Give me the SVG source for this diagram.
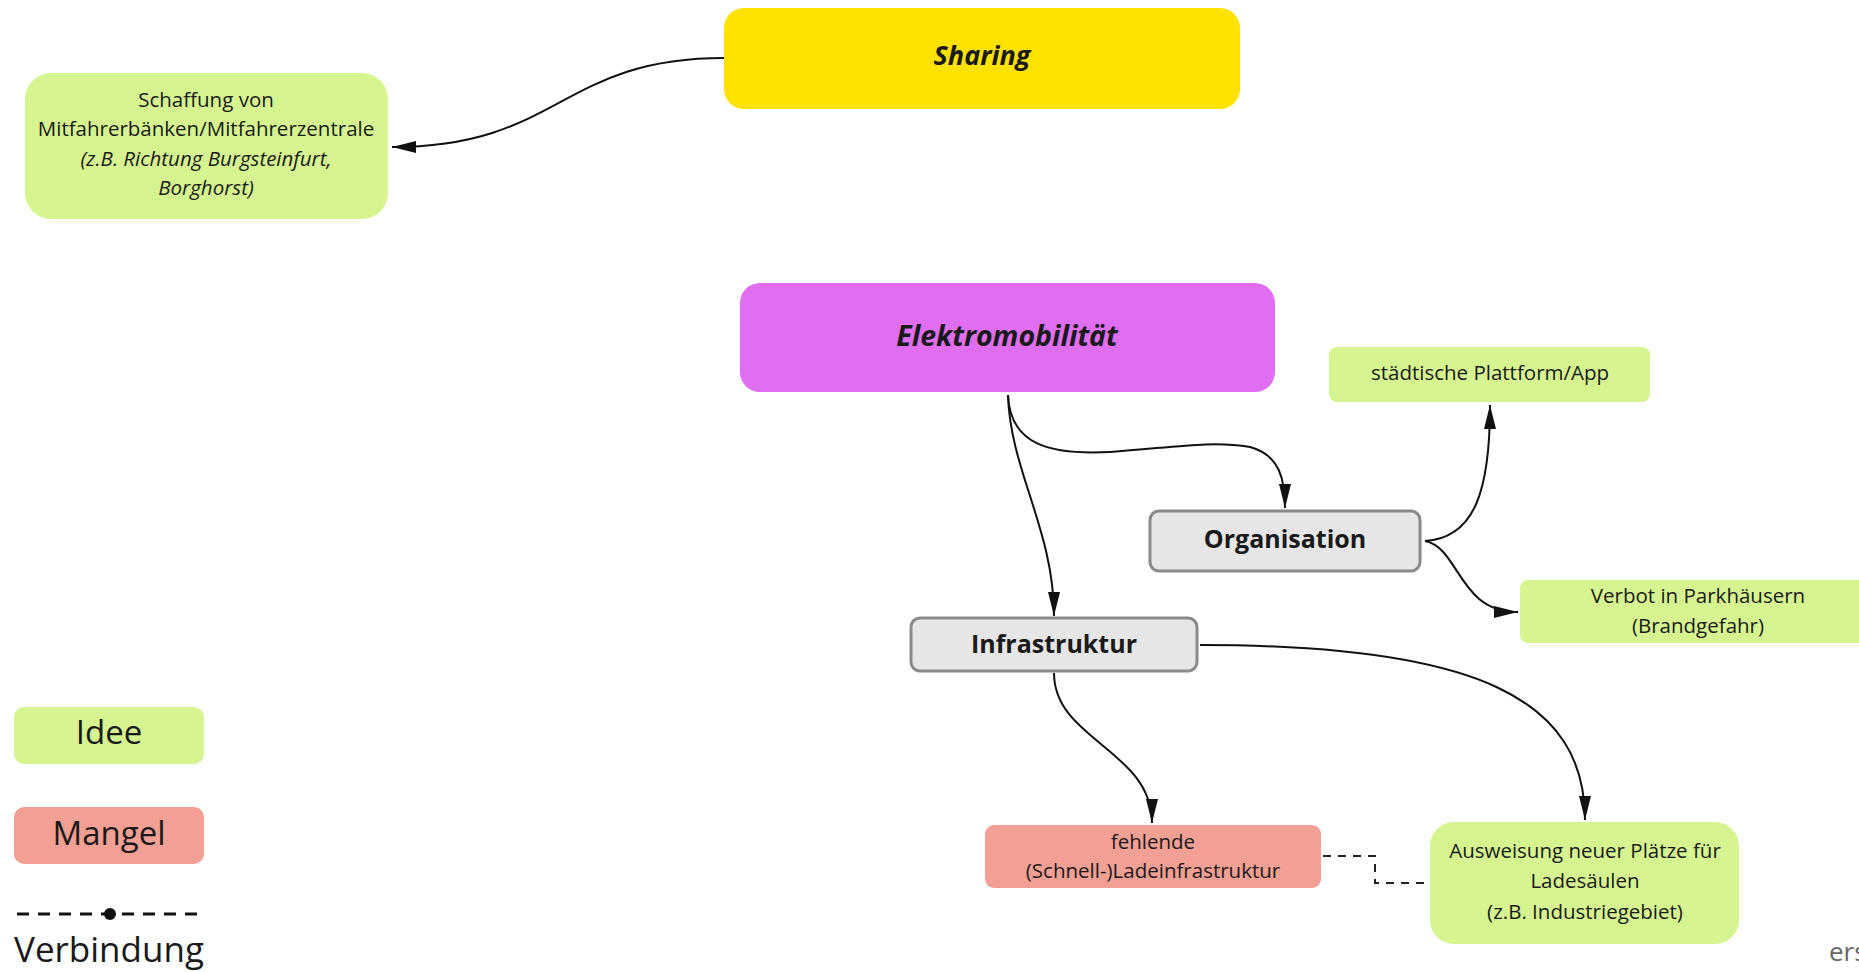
<svg xmlns="http://www.w3.org/2000/svg" width="1859" height="972" viewBox="0 0 1859 972">
<defs>
<marker id="arr" viewBox="0 0 24 12" refX="24" refY="6" markerWidth="24" markerHeight="12" markerUnits="userSpaceOnUse" orient="auto">
<path d="M0,0 L24,6 L0,12 z" fill="#111"/>
</marker>
<style>
text{font-family:"Open Sans","Noto Sans","Liberation Sans",sans-serif;fill:#1a1a1a;text-anchor:middle}
.t{font-size:20.5px}
.it{font-style:italic}
.bi{font-weight:bold;font-style:italic;font-size:27px}
.b{font-weight:bold;font-size:25px}
.leg{font-size:33px}
.idea{fill:#D6F590}
.lack{fill:#F29F94}
.cat{fill:#E6E6E6;stroke:#8A8A8A;stroke-width:3}
.con{fill:none;stroke:#111;stroke-width:2}
.dash{fill:none;stroke:#222;stroke-width:2;stroke-dasharray:8 7}
.legdash{fill:none;stroke:#111;stroke-width:3;stroke-dasharray:12 9}
</style>
</defs>
<g id="connectors">
<path class="con" d="M724,58 C560,58 560,147 392,147" marker-end="url(#arr)"/>
<path class="con" d="M1008,395 C1010,445 1050,455 1110,452 C1170,448 1210,440 1250,447 C1280,455 1285,480 1285,508" marker-end="url(#arr)"/>
<path class="con" d="M1008,395 C1010,470 1054,530 1054,616" marker-end="url(#arr)"/>
<path class="con" d="M1425,541 C1475,538 1490,490 1490,405" marker-end="url(#arr)"/>
<path class="con" d="M1425,541 C1460,548 1458,612 1518,612" marker-end="url(#arr)"/>
<path class="con" d="M1054,673 C1054,740 1152,750 1152,823" marker-end="url(#arr)"/>
<path class="con" d="M1200,645 C1480,645 1585,700 1585,820" marker-end="url(#arr)"/>
<path class="dash" d="M1323,856 L1375,856 L1375,883 L1430,883"/>
</g>
<g id="sharing">
<rect x="724" y="8" width="516" height="101" rx="20" fill="#FFE200"/>
<text class="bi" x="982" y="65">Sharing</text>
</g>
<g id="schaffung">
<rect class="idea" x="25" y="73" width="363" height="146" rx="26"/>
<text class="t" x="206" y="107">Schaffung von</text>
<text class="t" x="206" y="136">Mitfahrerbänken/Mitfahrerzentrale</text>
<text class="t it" x="206" y="166">(z.B. Richtung Burgsteinfurt,</text>
<text class="t it" x="206" y="195">Borghorst)</text>
</g>
<g id="elektromobilitaet">
<rect x="740" y="283" width="535" height="109" rx="20" fill="#DF6EF0"/>
<text class="bi" x="1007" y="346" style="font-size:28.5px">Elektromobilität</text>
</g>
<g id="plattform">
<rect class="idea" x="1329" y="347" width="321" height="55" rx="8"/>
<text class="t" x="1490" y="380">städtische Plattform/App</text>
</g>
<g id="organisation">
<rect class="cat" x="1150" y="511" width="270" height="60" rx="9"/>
<text class="b" x="1285" y="548">Organisation</text>
</g>
<g id="verbot">
<rect class="idea" x="1520" y="580" width="360" height="63" rx="8"/>
<text class="t" x="1698" y="603">Verbot in Parkhäusern</text>
<text class="t" x="1698" y="633">(Brandgefahr)</text>
</g>
<g id="infrastruktur">
<rect class="cat" x="911" y="618" width="286" height="53" rx="9"/>
<text class="b" x="1054" y="653">Infrastruktur</text>
</g>
<g id="fehlende">
<rect class="lack" x="985" y="825" width="336" height="63" rx="9"/>
<text class="t" x="1153" y="849">fehlende</text>
<text class="t" x="1153" y="878">(Schnell-)Ladeinfrastruktur</text>
</g>
<g id="ausweisung">
<rect class="idea" x="1430" y="822" width="309" height="122" rx="24"/>
<text class="t" x="1585" y="858">Ausweisung neuer Plätze für</text>
<text class="t" x="1585" y="888">Ladesäulen</text>
<text class="t" x="1585" y="919">(z.B. Industriegebiet)</text>
</g>
<g id="legend">
<rect class="idea" x="14" y="707" width="190" height="57" rx="10"/>
<text class="leg" x="109" y="744">Idee</text>
<rect class="lack" x="14" y="807" width="190" height="57" rx="10"/>
<text class="leg" x="109" y="845">Mangel</text>
<path class="legdash" d="M17,914 L204,914"/>
<circle cx="110" cy="914" r="6" fill="#111"/>
<text class="leg" x="109" y="962" style="font-size:35px">Verbindung</text>
</g>
<g id="footer">
<text x="1829" y="961" style="font-size:26px;fill:#666;text-anchor:start">ers</text>
</g>
</svg>
